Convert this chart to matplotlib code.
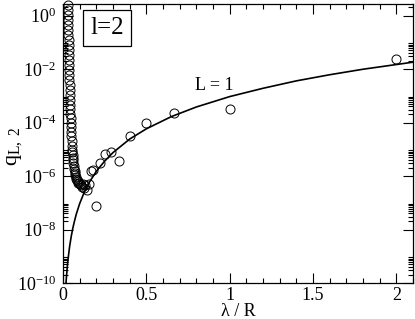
import numpy as np
import matplotlib
matplotlib.use("Agg")
import matplotlib.pyplot as plt
from matplotlib.ticker import FixedLocator, FuncFormatter, MultipleLocator

# === DATA ===
# circles: lambda/R = 2/n for n = 1..67 (log10 q)
lam_pts = [2.0, 1.0, 0.6667, 0.5, 0.4, 0.3333, 0.2857, 0.25, 0.2222, 0.2,
           0.1818, 0.1667, 0.1538, 0.1429, 0.1333, 0.125, 0.1176, 0.1111, 0.1053, 0.1,
           0.0952, 0.0909, 0.0870, 0.0833, 0.08, 0.0769, 0.0741, 0.0714, 0.0690, 0.0667,
           0.0645, 0.0625, 0.0606, 0.0588, 0.0571, 0.0556, 0.0541, 0.0526, 0.0513, 0.05,
           0.0488, 0.0476, 0.0465, 0.0455, 0.0444, 0.0435, 0.0426, 0.0417, 0.0408, 0.04,
           0.0392, 0.0385, 0.0377, 0.0370, 0.0364, 0.0357, 0.0351, 0.0345, 0.0339, 0.0333,
           0.0328, 0.0323, 0.0317, 0.0313, 0.0308, 0.0303, 0.0299]
log_q_pts = [-1.64, -3.51, -3.66, -4.03, -4.50, -5.43, -5.11, -5.19, -5.53, -7.12,
             -5.78, -5.80, -6.30, -6.52, -6.35, -6.45, -6.30, -6.40, -6.35, -6.30,
             -6.28, -6.25, -6.20, -6.15, -6.10, -6.03, -5.96, -5.89, -5.80, -5.72,
             -5.62, -5.52, -5.42, -5.32, -5.22, -5.12, -5.03, -4.86, -4.69, -4.52,
             -4.35, -4.18, -4.01, -3.84, -3.67, -3.50, -3.33, -3.16, -2.97, -2.78,
             -2.60, -2.41, -2.22, -2.04, -1.85, -1.66, -1.47, -1.29, -1.10, -0.91,
             -0.73, -0.54, -0.35, -0.16, 0.02, 0.21, 0.39]

# solid curve (L = 1)
lam_line = [0.018, 0.02, 0.025, 0.03, 0.04, 0.05, 0.06, 0.07, 0.08, 0.10, 0.13, 0.16,
            0.20, 0.25, 0.30, 0.40, 0.50, 0.65, 0.80, 1.0, 1.2, 1.4, 1.6, 1.8, 2.1]
q_line = [1.0e-10, 1.5e-10, 3.6e-10, 7.5e-10, 2.4e-9, 5.8e-9, 1.2e-8, 2.2e-8, 3.8e-8,
          9.3e-8, 2.7e-7, 6.1e-7, 1.5e-6, 3.6e-6, 7.5e-6, 2.4e-5, 5.8e-5, 1.66e-4,
          3.8e-4, 9.3e-4, 1.9e-3, 3.6e-3, 6.1e-3, 9.8e-3, 1.8e-2]

y_major = [1e0, 1e-2, 1e-4, 1e-6, 1e-8, 1e-10]
x_major = [0, 0.5, 1, 1.5, 2]

# === STYLE ===
plt.rcParams["font.family"] = ["Liberation Serif", "DejaVu Serif"]
plt.rcParams["mathtext.fontset"] = "custom"
plt.rcParams["mathtext.rm"] = "Liberation Serif"
plt.rcParams["mathtext.it"] = "Liberation Serif:italic"

fig = plt.figure(figsize=(4.15, 3.19), dpi=100)
ax = fig.add_axes([63 / 415, 36 / 319, 350 / 415, 279 / 319])

ax.plot(lam_line, q_line, color="black", lw=1.2)
ax.plot(lam_pts, 10 ** np.array(log_q_pts), linestyle="none", marker="o",
        markersize=6.5, markerfacecolor="none", markeredgecolor="black",
        markeredgewidth=0.7, clip_on=False)

ax.set_yscale("log")
ax.set_xlim(0, 2.1)
ax.set_ylim(1e-10, 10 ** 0.43)

# === TICKS ===
ax.xaxis.set_major_locator(FixedLocator(x_major))
ax.xaxis.set_minor_locator(MultipleLocator(0.1))
ax.xaxis.set_major_formatter(FuncFormatter(lambda v, p: "%g" % v))
ax.yaxis.set_major_locator(FixedLocator(y_major))
y_minor = [k * m for m in y_major for k in range(2, 10)]
ax.yaxis.set_minor_locator(FixedLocator(y_minor))
ax.yaxis.set_minor_formatter(FuncFormatter(lambda v, p: ""))
ax.yaxis.set_major_formatter(FuncFormatter(
    lambda v, p: r"$\mathregular{10^{%d}}$" % int(round(np.log10(v)))))

ax.tick_params(which="both", direction="in", top=True, right=True,
               labelsize=13, width=0.8)
ax.tick_params(which="major", length=7, pad=5)
ax.tick_params(axis="x", which="major", pad=3)
ax.tick_params(which="minor", length=3.5)
for s in ax.spines.values():
    s.set_linewidth(0.9)

# === LABELS ===
fig.text(238 / 415, 1 - 311 / 319, "λ / R", fontsize=13, ha="center", va="center")
fig.text(14 / 415, 1 - 146 / 319, r"$\mathregular{q_{L,\ 2}}$", fontsize=16,
         rotation=90, ha="center", va="center")

ax.text(0.126, 0.914, "l=2", transform=ax.transAxes, fontsize=18,
        va="center", ha="center",
        bbox=dict(boxstyle="square,pad=0.28", fc="white", ec="black", lw=0.9))
ax.text(0.905, 10 ** -2.6, "L = 1", fontsize=13, ha="center", va="center")

plt.savefig("out.png", dpi=100)
